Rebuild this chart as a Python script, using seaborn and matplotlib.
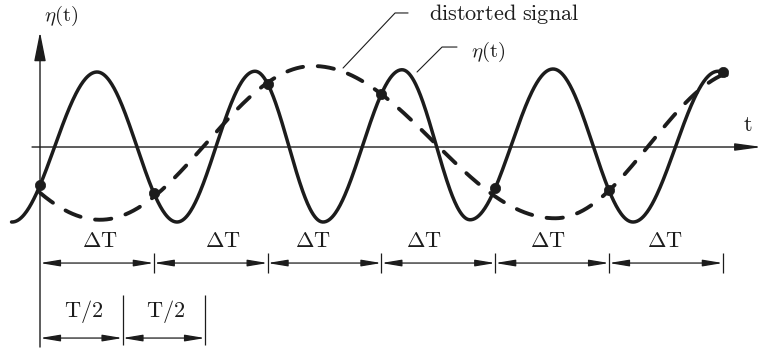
import numpy as np
import pandas as pd
import matplotlib
matplotlib.use("Agg")
import matplotlib.pyplot as plt
import seaborn as sns

# Sampling instants, in units of the sampling interval ΔT
sample_t = [0, 1, 2, 3, 4, 5, 6]

# Turning points (time in ΔT units, level) of the original signal η(t)
signal_ext_t = [-0.246, 0.501, 1.204, 1.889, 2.487, 3.181, 3.779, 4.508, 5.211, 5.958]
signal_ext_v = [-1.0, 1.0, -1.0, 1.01, -1.0, 1.03, -0.97, 1.04, -1.0, 1.01]
signal_span = (-0.25, 6.035)

# Turning points of the distorted signal that the samples trace out
distorted_ext_t = [-1.388, 0.527, 2.399, 4.525, 6.195]
distorted_ext_v = [1.08, -0.97, 1.08, -0.95, 1.03]
distorted_span = (0.0, 6.0)

# Half period of the original signal (ΔT units)
half_period = 0.725

interval_label = r"$\Delta\mathrm{T}$"
half_label = r"$\mathrm{T/2}$"


def through_turning_points(ext_t, ext_v, t):
    """Smooth stroke through alternating maxima/minima (half-cosine arcs)."""
    ext_t = np.asarray(ext_t, float)
    ext_v = np.asarray(ext_v, float)
    t = np.asarray(t, float)
    i = np.clip(np.searchsorted(ext_t, t) - 1, 0, len(ext_t) - 2)
    t0, t1 = ext_t[i], ext_t[i + 1]
    v0, v1 = ext_v[i], ext_v[i + 1]
    f = (t - t0) / (t1 - t0)
    return v0 + (v1 - v0) * (1 - np.cos(np.pi * f)) / 2


sns.set_theme(style="white")
plt.rcParams["mathtext.fontset"] = "cm"
ink = "#1c1c1c"
fs = 16

fig = plt.figure(figsize=(7.63, 3.49), dpi=100)
ax = fig.add_axes([0, 0, 1, 1])
ax.set_xlim(-0.3515, 6.353)
ax.set_ylim(-2.693, 1.96)
ax.axis("off")

# original and distorted signals
tt = np.linspace(*signal_span, 900)
sig = pd.DataFrame({"t": tt, "eta": through_turning_points(signal_ext_t, signal_ext_v, tt)})
sns.lineplot(data=sig, x="t", y="eta", ax=ax, color=ink, lw=2.5,
             sort=False, estimator=None, solid_capstyle="round")

td = np.linspace(*distorted_span, 900)
dis = pd.DataFrame({"t": td, "eta": through_turning_points(distorted_ext_t, distorted_ext_v, td)})
sns.lineplot(data=dis, x="t", y="eta", ax=ax, color=ink, lw=2.8,
             sort=False, estimator=None, linestyle=(0, (4.2, 3.8)),
             dash_capstyle="round")

# sampled values
samples = pd.DataFrame({"t": sample_t,
                        "eta": through_turning_points(signal_ext_t, signal_ext_v, sample_t)})
sns.scatterplot(data=samples, x="t", y="eta", ax=ax, color=ink, s=55,
                marker="o", edgecolor=ink, linewidth=0.5, zorder=5)

# coordinate axes
ax.annotate("", xy=(0, 1.533), xytext=(0, -2.667),
            arrowprops=dict(arrowstyle="-|>,head_length=1.8,head_width=0.36",
                            lw=1.0, color=ink, shrinkA=0, shrinkB=0,
                            mutation_scale=10))
ax.annotate("", xy=(6.345, 0.0), xytext=(-0.07, 0.0),
            arrowprops=dict(arrowstyle="-|>,head_length=1.6,head_width=0.22",
                            lw=1.0, color=ink, shrinkA=0, shrinkB=0,
                            mutation_scale=10))

ax.text(0.19, 1.75, r"$\eta(\mathrm{t})$", fontsize=15, color=ink,
        ha="center", va="center")
ax.text(6.22, 0.29, r"$\mathrm{t}$", fontsize=fs, color=ink,
        ha="center", va="center")

# callouts
ax.plot([2.663, 3.120, 3.234], [1.053, 1.787, 1.787], color=ink, lw=0.8)
ax.text(3.42, 1.78, r"$\mathrm{distorted\ signal}$", fontsize=fs, color=ink,
        ha="left", va="center")
ax.plot([3.313, 3.533, 3.664], [1.0, 1.333, 1.333], color=ink, lw=0.8)
ax.text(3.79, 1.27, r"$\eta(\mathrm{t})$", fontsize=15, color=ink,
        ha="left", va="center")

# ΔT dimension chain
dim_y = -1.547
label_shift = [0.03, 0.11, -0.10, -0.13, -0.04, -0.01]
arrow_kw = dict(arrowstyle="<|-|>,head_length=1.2,head_width=0.2",
                lw=0.9, color=ink, shrinkA=0, shrinkB=0, mutation_scale=10)
for k in range(len(sample_t) - 1):
    a, b = sample_t[k], sample_t[k + 1]
    ax.annotate("", xy=(b, dim_y), xytext=(a, dim_y), arrowprops=arrow_kw)
    ax.text((a + b) / 2 + label_shift[k], -1.253, interval_label, fontsize=fs,
            color=ink, ha="center", va="center")
ax.vlines(sample_t[1:], -1.68, -1.413, color=ink, lw=0.9)

# T/2 dimension
half_marks = [0, half_period, 2 * half_period]
ax.vlines(half_marks[1:], -2.64, -1.973, color=ink, lw=0.9)
for k in range(2):
    a, b = half_marks[k], half_marks[k + 1]
    ax.annotate("", xy=(b, -2.547), xytext=(a, -2.547), arrowprops=arrow_kw)
    ax.text((a + b) / 2 + 0.02, -2.19, half_label, fontsize=fs, color=ink,
            ha="center", va="center")

fig.savefig("out.png", dpi=100, facecolor="white")
